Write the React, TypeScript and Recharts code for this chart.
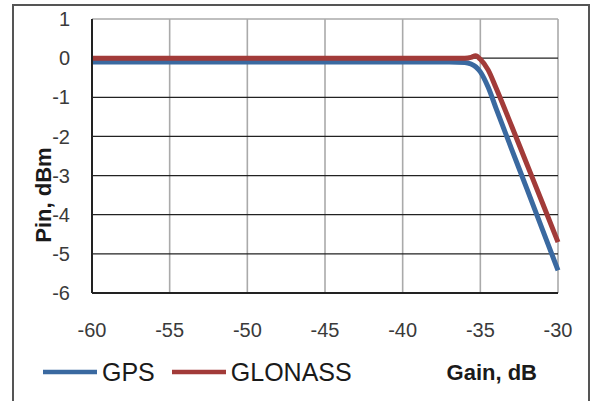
import React from 'react';
import { LineChart, Line, XAxis, YAxis, CartesianGrid } from 'recharts';

const gain = [-60, -50, -40, -37, -36, -35.6, -35.3, -35, -34.5, -34, -33, -32, -31, -30];
const gps = [-0.1, -0.1, -0.1, -0.1, -0.11, -0.15, -0.22, -0.35, -0.74, -1.27, -2.31, -3.34, -4.38, -5.42];
const glonass = [0, 0, 0, 0, 0, 0.02, 0.06, -0.03, -0.3, -0.75, -1.72, -2.71, -3.7, -4.7];

const xTicks = [-60, -55, -50, -45, -40, -35, -30];
const yTicks = [1, 0, -1, -2, -3, -4, -5, -6];
const darkGrid = [0, -1, -2, -3, -4, -5];
const topBorder = [1];

const seriesNames = ['GPS', 'GLONASS'];
const seriesColors = ['#3a69a0', '#a23b39'];

const data = gain.map((g, i) => ({ gain: g, GPS: gps[i], GLONASS: glonass[i] }));

const LegendContent = () => (
  <div style={{ display: 'flex', alignItems: 'center', fontFamily: 'Arial, "Liberation Sans", sans-serif', fontSize: 25, color: '#1a1a1a' }}>
    {seriesNames.map((n, i) => (
      <div key={n} style={{ display: 'flex', alignItems: 'center', marginRight: 17 }}>
        <svg width={54} height={8} style={{ marginRight: 5 }}>
          <line x1={0} y1={4} x2={54} y2={4} stroke={seriesColors[i]} strokeWidth={4.5} />
        </svg>
        <span style={{ lineHeight: '28px' }}>{n}</span>
      </div>
    ))}
  </div>
);

const XLabel = (props: any) => {
  const vb = props.viewBox;
  return (
    <text x={vb.x + vb.width - 21} y={vb.y + 87} textAnchor="end" fontFamily="Arial, 'Liberation Sans', sans-serif" fontWeight="bold" fontSize={22} fill="#1a1a1a">
      Gain, dB
    </text>
  );
};

const YLabel = (props: any) => {
  const vb = props.viewBox;
  const cx = vb.x + 11;
  const cy = vb.y + vb.height / 2 + 39;
  return (
    <text x={cx} y={cy} transform={`rotate(-90 ${cx} ${cy})`} textAnchor="middle" dominantBaseline="central" fontFamily="Arial, 'Liberation Sans', sans-serif" fontWeight="bold" fontSize={22} fill="#1a1a1a">
      Pin, dBm
    </text>
  );
};

export default function App() {
  const tickStyle = { fontFamily: 'Arial, "Liberation Sans", sans-serif', fontSize: 20, fill: '#3a3a3a' };
  return (
    <div style={{ position: 'absolute', left: 0, top: 0, width: 593, height: 401, overflow: 'hidden', background: '#fff' }}>
      <div style={{ position: 'absolute', left: 12, top: 4, width: 578, height: 430, border: '2px solid #555', boxSizing: 'border-box' }} />
      <LineChart width={593} height={401} data={data} margin={{ top: 19, right: 35, bottom: 78, left: 32 }} style={{ position: 'absolute', left: 0, top: 0 }}>
        <CartesianGrid horizontal={false} stroke="#aaaaaa" strokeWidth={1.6} />
        <CartesianGrid vertical={false} horizontalValues={topBorder} stroke="#aaaaaa" strokeWidth={1.6} />
        <CartesianGrid vertical={false} horizontalValues={darkGrid} stroke="#222" strokeWidth={1.2} />
        <XAxis
          dataKey="gain"
          type="number"
          domain={[-60, -30]}
          ticks={xTicks}
          tickLine={false}
          tickSize={0}
          tickMargin={30}
          axisLine={{ stroke: '#222', strokeWidth: 2 }}
          tick={tickStyle}
          height={30}
          label={<XLabel />}
        />
        <YAxis
          type="number"
          domain={[-6, 1]}
          ticks={yTicks}
          tickLine={false}
          tickSize={0}
          tickMargin={22}
          axisLine={{ stroke: '#222', strokeWidth: 2 }}
          tick={tickStyle}
          width={60}
          label={<YLabel />}
        />
        <Line type="monotone" dataKey="GPS" stroke={seriesColors[0]} strokeWidth={5} dot={false} isAnimationActive={false} />
        <Line type="monotone" dataKey="GLONASS" stroke={seriesColors[1]} strokeWidth={5} dot={false} isAnimationActive={false} />
      </LineChart>
      <div style={{ position: 'absolute', left: 43, top: 358 }}>
        <LegendContent />
      </div>
    </div>
  );
}
